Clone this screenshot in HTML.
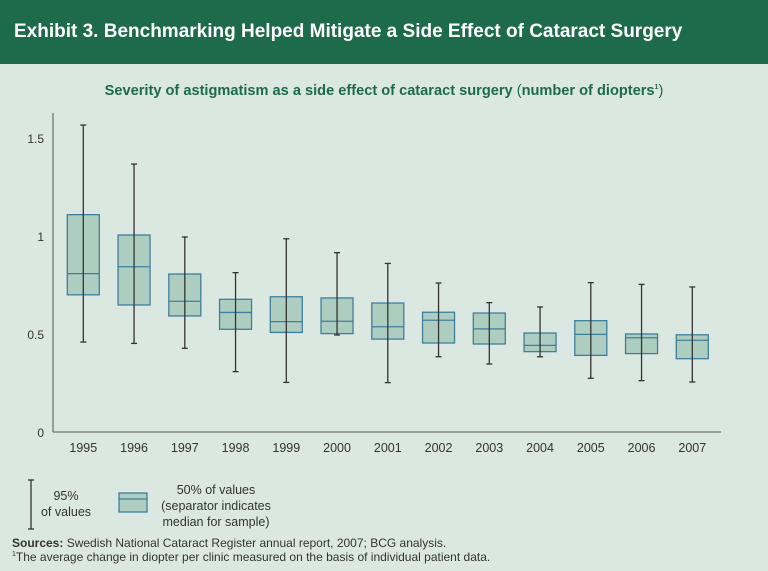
<!DOCTYPE html>
<html><head><meta charset="utf-8"><style>
body{margin:0;width:768px;height:571px;background:#dbe7e1;font-family:"Liberation Sans",sans-serif;overflow:hidden;position:relative}
#hdr{position:absolute;left:0;top:0;width:768px;height:64px;background:#1d6b4a;color:#fff;font-weight:bold;font-size:19px;line-height:64px;padding-left:14px;box-sizing:border-box}
#sub{position:absolute;top:83px;left:0;width:768px;text-align:center;color:#1d6b4a;font-weight:bold;font-size:14.6px}
svg{position:absolute;left:0;top:0}
.src{position:absolute;left:12px;font-size:12px;color:#333}
</style></head><body>
<div id="hdr">Exhibit 3. Benchmarking Helped Mitigate a Side Effect of Cataract Surgery</div>
<div id="sub">Severity of astigmatism as a side effect of cataract surgery <span style="font-weight:normal">(</span>number of diopters<sup style="font-size:7px">1</sup><span style="font-weight:normal">)</span></div>
<svg id="chart" width="768" height="571"></svg>
<div class="src" style="top:536px"><b>Sources:</b> Swedish National Cataract Register annual report, 2007; BCG analysis.</div>
<div class="src" style="top:550px"><sup style="font-size:7px">1</sup>The average change in diopter per clinic measured on the basis of individual patient data.</div>
<script>
const years=["1995","1996","1997","1998","1999","2000","2001","2002","2003","2004","2005","2006","2007"];
const whiskerHigh=[1.566,1.367,0.995,0.813,0.986,0.915,0.860,0.760,0.660,0.638,0.762,0.753,0.740];
const whiskerLow=[0.459,0.452,0.427,0.308,0.253,0.495,0.252,0.384,0.347,0.384,0.274,0.262,0.255];
const boxHigh=[1.109,1.005,0.806,0.677,0.690,0.684,0.658,0.611,0.607,0.505,0.568,0.500,0.496];
const boxLow=[0.700,0.648,0.592,0.524,0.508,0.502,0.474,0.454,0.449,0.410,0.391,0.400,0.374];
const medians=[0.808,0.843,0.667,0.610,0.563,0.565,0.537,0.570,0.526,0.442,0.498,0.481,0.468];
const yTicks=[0,0.5,1,1.5];
const yTickLabels=["0","0.5","1","1.5"];
const svg=document.getElementById('chart');const NS='http://www.w3.org/2000/svg';
function y(v){return 432-v*196;}
function x(i){return 83.3+i*50.75;}
function el(t,a,p){const e=document.createElementNS(NS,t);for(const k in a)e.setAttribute(k,a[k]);(p||svg).appendChild(e);return e;}
let e;
e=el('line',{x1:53,y1:113,x2:53,y2:432,stroke:'#555','stroke-width':1});


e=el('line',{x1:53,y1:432,x2:721,y2:432,stroke:'#555','stroke-width':1});


yTicks.forEach((v,i)=>{const t=el('text',{x:44,y:y(v)+5,'text-anchor':'end','font-size':12,fill:'#333'});t.textContent=yTickLabels[i];

});
years.forEach((yr,i)=>{const cx=x(i);
const g=el('g',{});


el('rect',{x:cx-16,y:y(boxHigh[i]),width:32,height:y(boxLow[i])-y(boxHigh[i]),fill:'#aecdc1',stroke:'#3f7f9b','stroke-width':1.3},g);
el('line',{x1:cx-16,x2:cx+16,y1:y(medians[i]),y2:y(medians[i]),stroke:'#3f7f9b','stroke-width':1.3},g);
el('line',{x1:cx,x2:cx,y1:y(whiskerHigh[i]),y2:y(whiskerLow[i]),stroke:'#333','stroke-width':1.3},g);
el('line',{x1:cx-3,x2:cx+3,y1:y(whiskerHigh[i]),y2:y(whiskerHigh[i]),stroke:'#333','stroke-width':1.3},g);
el('line',{x1:cx-3,x2:cx+3,y1:y(whiskerLow[i]),y2:y(whiskerLow[i]),stroke:'#333','stroke-width':1.3},g);
const t=el('text',{x:cx,y:452,'text-anchor':'middle','font-size':12.5,fill:'#333'});t.textContent=yr;

});
const lg=el('g',{});


el('line',{x1:31,x2:31,y1:480,y2:529,stroke:'#333','stroke-width':1.3},lg);
el('line',{x1:28,x2:34,y1:480,y2:480,stroke:'#333','stroke-width':1.3},lg);
el('line',{x1:28,x2:34,y1:529,y2:529,stroke:'#333','stroke-width':1.3},lg);
[["95%",500],["of values",516]].forEach(a=>{const t=el('text',{x:66,y:a[1],'text-anchor':'middle','font-size':12.5,fill:'#333'},lg);t.textContent=a[0];});
el('rect',{x:119,y:493,width:28,height:19,fill:'#aecdc1',stroke:'#3f7f9b','stroke-width':1.3},lg);
el('line',{x1:119,x2:147,y1:499,y2:499,stroke:'#3f7f9b','stroke-width':1.3},lg);
[["50% of values",494],["(separator indicates",510],["median for sample)",526]].forEach(a=>{const t=el('text',{x:216,y:a[1],'text-anchor':'middle','font-size':12.5,fill:'#333'},lg);t.textContent=a[0];});
</script>
</body></html>
